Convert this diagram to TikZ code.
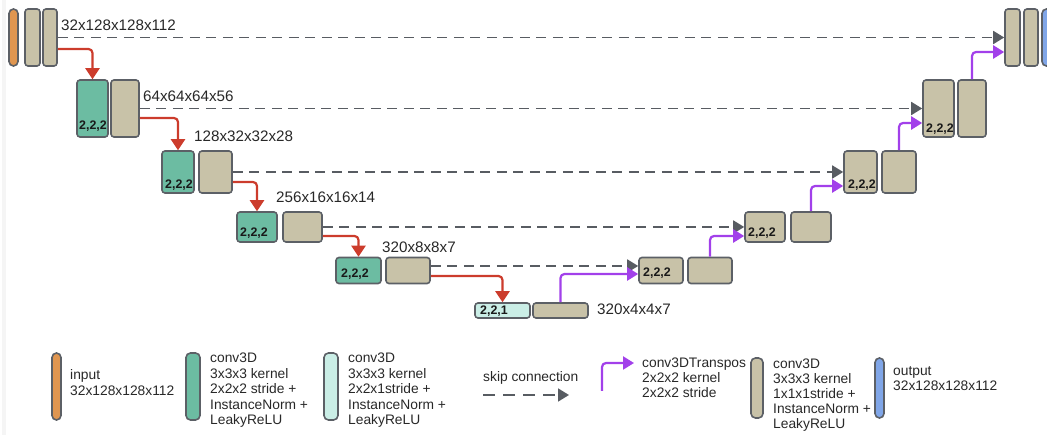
\documentclass[tikz,border=0pt]{standalone}
\usepackage{fontspec}
\setmainfont{Liberation Sans}
\usetikzlibrary{arrows.meta,calc}
\definecolor{cOrange}{RGB}{224,150,80}
\definecolor{cTeal}{RGB}{108,188,162}
\definecolor{cLight}{RGB}{202,238,230}
\definecolor{cBeige}{RGB}{200,194,168}
\definecolor{cBlue}{RGB}{128,166,232}
\definecolor{cBorder}{RGB}{92,96,102}
\definecolor{cRed}{RGB}{204,60,44}
\definecolor{cPurple}{RGB}{162,64,234}
\definecolor{cDash}{RGB}{88,92,98}
\definecolor{cText}{RGB}{40,40,40}
\tikzset{
  blk/.style={draw=cBorder, line width=1.6pt, rounded corners=3pt, inner sep=0pt},
  pill/.style={draw=cBorder, line width=1.6pt, rounded corners=4.5pt, inner sep=0pt},
  redarr/.style={draw=cRed, line width=2.2pt, rounded corners=4pt, -{Triangle[width=14pt,length=11pt]}},
  purarr/.style={draw=cPurple, line width=2.2pt, rounded corners=4pt, -{Triangle[width=13pt,length=11pt]}},
  skiparr/.style={draw=cDash, line width=1.8pt, dash pattern=on 10pt off 6.5pt, -{Triangle[width=13pt,length=11pt]}},
  dimlbl/.style={anchor=base west, inner sep=0pt, text=cText, font=\fontsize{15.2}{18}\selectfont},
  strd/.style={anchor=base west, inner sep=0pt, text=black!90, font=\fontsize{12.4}{14}\selectfont\bfseries},
  leg/.style={anchor=base west, inner sep=0pt, text=cText, font=\fontsize{13.8}{15.5}\selectfont},
}
\begin{document}
\begin{tikzpicture}[x=1pt,y=-1pt]
\useasboundingbox (0,0) rectangle (1047,435);
\fill[black!4] (2,0) rectangle (6,435);
% top row
\node[pill, fill=cOrange, minimum width=9pt, minimum height=57pt] (in) at (13.5,37.5) {};
\node[blk, fill=cBeige, minimum width=15pt, minimum height=57pt] (b0a) at (32.5,37.5) {};
\node[blk, fill=cBeige, minimum width=14pt, minimum height=57pt] (b0b) at (50,37.5) {};
\node[blk, fill=cBeige, minimum width=15pt, minimum height=57pt] (d0a) at (1012.5,37.5) {};
\node[blk, fill=cBeige, minimum width=14pt, minimum height=57pt] (d0b) at (1031,37.5) {};
\node[pill, fill=cBlue, minimum width=10pt, minimum height=57pt] (out) at (1047,37.5) {};
% level 1
\node[blk, fill=cTeal, minimum width=31pt, minimum height=57pt] (e1a) at (92.5,108.5) {};
\node[blk, fill=cBeige, minimum width=28pt, minimum height=57pt] (e1b) at (125,108.5) {};
\node[blk, fill=cBeige, minimum width=31pt, minimum height=57pt] (d1a) at (938.5,108.5) {};
\node[blk, fill=cBeige, minimum width=28pt, minimum height=57pt] (d1b) at (972,108.5) {};
% level 2
\node[blk, fill=cTeal, minimum width=32pt, minimum height=42pt] (e2a) at (178,172) {};
\node[blk, fill=cBeige, minimum width=33pt, minimum height=42pt] (e2b) at (215.5,172) {};
\node[blk, fill=cBeige, minimum width=33pt, minimum height=42pt] (d2a) at (860.5,172) {};
\node[blk, fill=cBeige, minimum width=34pt, minimum height=42pt] (d2b) at (899,172) {};
% level 3
\node[blk, fill=cTeal, minimum width=40pt, minimum height=30pt] (e3a) at (257,227) {};
\node[blk, fill=cBeige, minimum width=39pt, minimum height=30pt] (e3b) at (302.5,227) {};
\node[blk, fill=cBeige, minimum width=40pt, minimum height=30pt] (d3a) at (765,227) {};
\node[blk, fill=cBeige, minimum width=40pt, minimum height=30pt] (d3b) at (811,227) {};
% level 4
\node[blk, fill=cTeal, minimum width=45pt, minimum height=26pt] (e4a) at (358.5,270.5) {};
\node[blk, fill=cBeige, minimum width=44pt, minimum height=26pt] (e4b) at (408,270.5) {};
\node[blk, fill=cBeige, minimum width=44pt, minimum height=26pt] (d4a) at (661,270.5) {};
\node[blk, fill=cBeige, minimum width=44pt, minimum height=26pt] (d4b) at (710,270.5) {};
% bottom
\node[blk, fill=cLight, minimum width=55pt, minimum height=15pt] (bt) at (502.5,310.5) {};
\node[blk, fill=cBeige, minimum width=55pt, minimum height=15pt] (bb) at (560.5,310.5) {};

% skip connections
\draw[skiparr] (b0b.east) -- (d0a.west);
\draw[skiparr] (e1b.east) -- (d1a.west);
\draw[skiparr] (e2b.east) -- (d2a.west);
\draw[skiparr] (e3b.east) -- (d3a.west);
\draw[skiparr] ($(e4b.east)+(0,-4.5)$) -- ($(d4a.west)+(0,-4.5)$);

% down path
\draw[redarr] ($(b0b.east)+(0,11.5)$) -| (e1a.north);
\draw[redarr] ($(e1b.east)+(0,9.5)$) -| (e2a.north);
\draw[redarr] ($(e2b.east)+(0,10)$) -| (e3a.north);
\draw[redarr] ($(e3b.east)+(0,9)$) -| (e4a.north);
\draw[redarr] ($(e4b.east)+(0,5.5)$) -| (bt.north);

% up path
\draw[purarr] (bb.north) |- ($(d4a.west)+(0,3.5)$);
\draw[purarr] (d4b.north) |- ($(d3a.west)+(0,9)$);
\draw[purarr] (d3b.north) |- ($(d2a.west)+(0,14)$);
\draw[purarr] (d2b.north) |- ($(d1a.west)+(0,14.5)$);
\draw[purarr] (d1b.north) |- ($(d0a.west)+(0,14.5)$);

% dimension labels
\node[dimlbl] (t0) at (61,31) {32x128x128x112};
\node[dimlbl] (t1) at (143,102) {64x64x64x56};
\node[dimlbl] (t2) at (194,142) {128x32x32x28};
\node[dimlbl] (t3) at (276,203) {256x16x16x14};
\node[dimlbl] (t4) at (382,253) {320x8x8x7};
\node[dimlbl] (t5) at (597,315) {320x4x4x7};

% stride labels
\node[strd] (s1) at (79,130) {2,2,2};
\node[strd] (s2) at (165,189) {2,2,2};
\node[strd] (s3) at (240,237) {2,2,2};
\node[strd] (s4) at (341,278) {2,2,2};
\node[strd] (s5) at (480,315) {2,2,1};
\node[strd] (s6) at (643,277) {2,2,2};
\node[strd] (s7) at (748,237) {2,2,2};
\node[strd] (s8) at (848,189) {2,2,2};
\node[strd] (s9) at (926,133) {2,2,2};

% legend
\node[pill, fill=cOrange, minimum width=9pt, minimum height=67pt] (gIn) at (56.5,386.5) {};
\node[leg] (lIn) at (70,380) {\vtop{\baselineskip=16pt\hbox{input}\hbox{32x128x128x112}}};
\node[pill, fill=cTeal, minimum width=14pt, minimum height=67pt] (gTeal) at (193,386.5) {};
\node[leg] (lTeal) at (210,363) {\vtop{\hbox{conv3D}\hbox{3x3x3 kernel}\hbox{2x2x2 stride +}\hbox{InstanceNorm +}\hbox{LeakyReLU}}};
\node[pill, fill=cLight, minimum width=14pt, minimum height=67pt] (gLt) at (331,386.5) {};
\node[leg] (lLt) at (348,363) {\vtop{\hbox{conv3D}\hbox{3x3x3 kernel}\hbox{2x2x1stride +}\hbox{InstanceNorm +}\hbox{LeakyReLU}}};
\node[leg] (lSkip) at (483,382) {skip connection};
\coordinate (lsA) at (483,395);
\coordinate (lsB) at (569,395);
\draw[skiparr, dash pattern=on 12pt off 8pt] (lsA) -- (lsB);
\coordinate (lpA) at (602,391);
\coordinate (lpB) at (634,363);
\draw[purarr] (lpA) |- (lpB);
\node[leg] (lTr) at (642,368) {\vtop{\baselineskip=15pt\hbox{conv3DTranspos}\hbox{2x2x2 kernel}\hbox{2x2x2 stride}}};
\node[pill, fill=cBeige, minimum width=12pt, minimum height=60pt] (gBeige) at (757,388) {};
\node[leg] (lBeige) at (773,369) {\vtop{\baselineskip=15pt\hbox{conv3D}\hbox{3x3x3 kernel}\hbox{1x1x1stride +}\hbox{InstanceNorm +}\hbox{LeakyReLU}}};
\node[pill, fill=cBlue, minimum width=9pt, minimum height=60pt] (gBlue) at (879.5,388) {};
\node[leg] (lOut) at (893,376) {\vtop{\baselineskip=15pt\hbox{output}\hbox{32x128x128x112}}};
\end{tikzpicture}
\end{document}
